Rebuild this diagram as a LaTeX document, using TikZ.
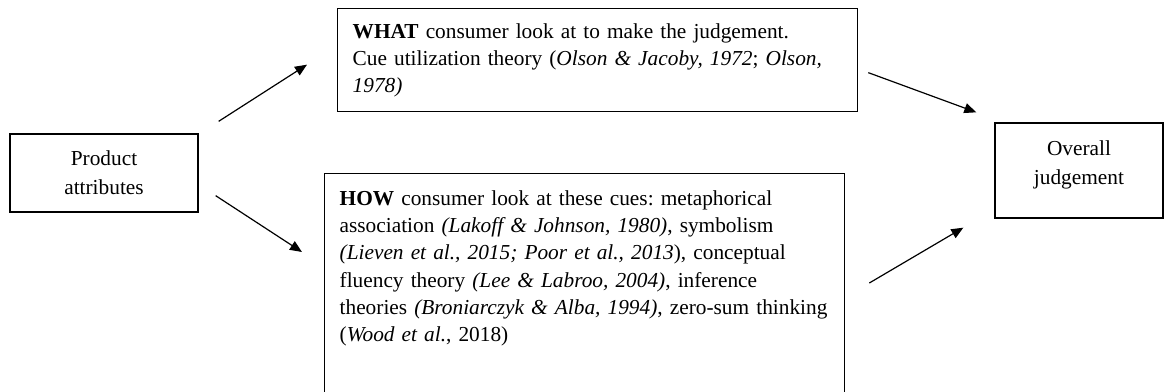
\documentclass[tikz,border=0pt]{standalone}
\usepackage{fontspec}
\setmainfont{Liberation Serif}
\usetikzlibrary{arrows.meta}
\frenchspacing
\newcommand{\boxfont}{\fontsize{16}{22}\selectfont}
\newcommand{\citefont}{\fontsize{16}{20.3}\selectfont}

\begin{document}
\begin{tikzpicture}[x=0.75pt, y=-0.75pt, >={Triangle[length=9pt,width=7.5pt]}, line width=0.9pt,
	box/.style={draw, line width=1pt, inner xsep=11.25pt, inner ysep=0pt, font=\boxfont},
	txtbox/.style={box, anchor=north west, text width=367.5pt, align=left, font=\citefont}]
	\clip (0,0) rectangle (1164,392);

	% left and right boxes
	\node[box, align=center, minimum width=141pt, minimum height=58.5pt] (prod) at (104,173) {Product\\attributes};
	\node[box, align=center, minimum width=126pt, minimum height=71.25pt, text depth=12pt] (overall) at (1079,170.5) {Overall\\judgement};

	% middle boxes
	\node[txtbox, minimum height=77.25pt] (what) at (337,8) {\textbf{WHAT} consumer look at to make the judgement.\\
		Cue utilization theory (\textit{Olson \& Jacoby, 1972}; \textit{Olson,}\\
		\textit{1978)}};
	\node[txtbox, inner ysep=13pt, text depth=150pt] (how) at (324,173) {\textbf{HOW} consumer look at these cues: metaphorical\\
		association \textit{(Lakoff \& Johnson, 1980)}, symbolism\\
		\textit{(Lieven et al., 2015; Poor et al., 2013}), conceptual\\
		fluency theory \textit{(Lee \& Labroo, 2004)}, inference\\
		theories \textit{(Broniarczyk \& Alba, 1994)}, zero-sum thinking\\
		(\textit{Wood et al.}, 2018)};

	% arrows
	\draw[->] ([shift={(20,-12)}]prod.north east) -- ([shift={(-30,4.5)}]what.west);
	\draw[->] ([shift={(17,-17)}]prod.south east) -- ([shift={(-22,79)}]how.north west);
	\draw[->] ([shift={(10,12.5)}]what.east) -- ([shift={(-18,-10)}]overall.north west);
	\draw[->] ([shift={(24,110)}]how.north east) -- ([shift={(-31,9)}]overall.south west);
\end{tikzpicture}
\end{document}
